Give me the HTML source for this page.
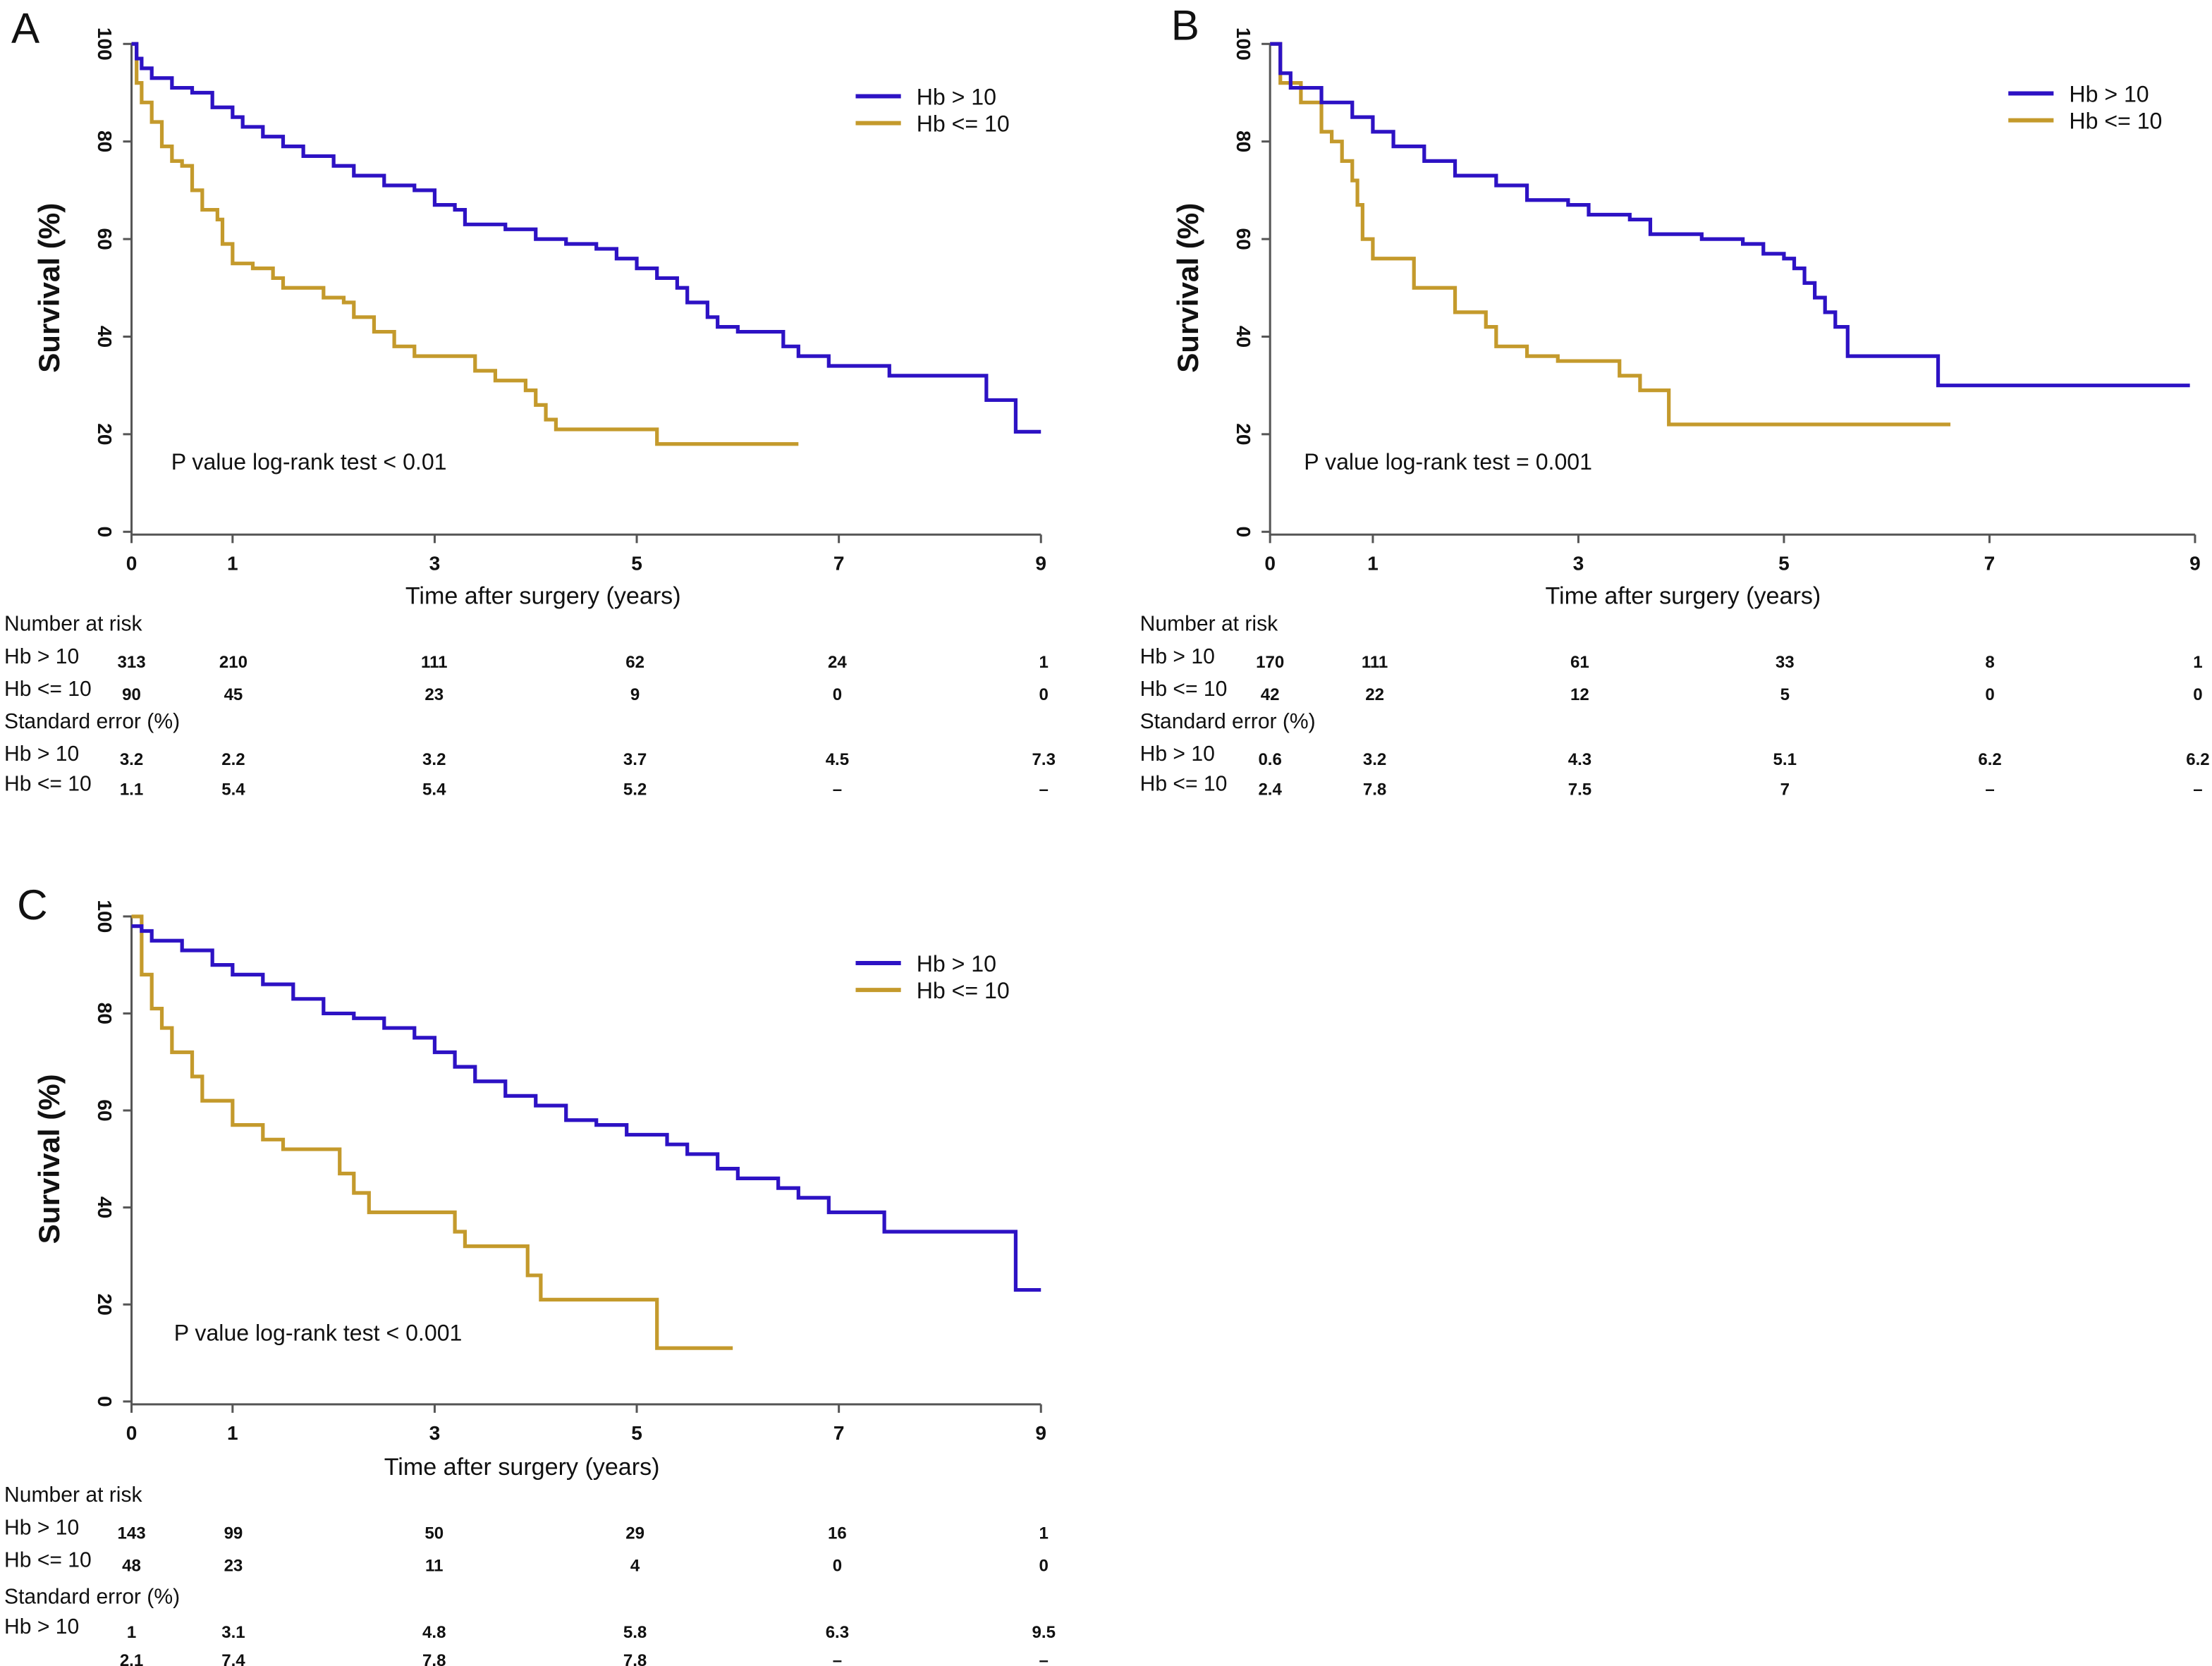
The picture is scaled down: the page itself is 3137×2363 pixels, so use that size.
<!DOCTYPE html>
<html><head><meta charset="utf-8">
<style>
html,body{margin:0;padding:0;background:#fff;}
svg{display:block;}
text{font-family:"Liberation Sans",sans-serif;fill:#111;}
.tk{font-size:14px;font-weight:bold;}
.tv{font-size:12px;font-weight:bold;}
.lb{font-size:15px;}
</style></head>
<body>
<svg id="chart" width="3137" height="2363" viewBox="0 0 1564 1178" xmlns="http://www.w3.org/2000/svg"></svg>
<script>
// ---- data ----
const xTicks = [0,1,3,5,7,9];
const yTicks = [0,20,40,60,80,100];
const seriesNames = ["Hb > 10","Hb <= 10"];
const aBlueT = [0,0.05,0.1,0.2,0.4,0.6,0.8,1,1.1,1.3,1.5,1.7,2,2.2,2.5,2.8,3,3.2,3.3,3.7,4,4.3,4.6,4.8,5,5.2,5.4,5.5,5.7,5.8,6,6.45,6.6,6.9,7.5,8.46,8.75];
const aBlueS = [100,97,95,93,91,90,87,85,83,81,79,77,75,73,71,70,67,66,63,62,60,59,58,56,54,52,50,47,44,42,41,38,36,34,32,27,20.5];
const aBlueEnd = 9;
const aGoldT = [0,0.05,0.1,0.2,0.3,0.4,0.5,0.6,0.7,0.85,0.9,1,1.2,1.4,1.5,1.9,2.1,2.2,2.4,2.6,2.8,3.4,3.6,3.9,4,4.1,4.2,5.2];
const aGoldS = [100,92,88,84,79,76,75,70,66,64,59,55,54,52,50,48,47,44,41,38,36,33,31,29,26,23,21,18];
const aGoldEnd = 6.6;
const bBlueT = [0,0.1,0.2,0.5,0.8,1,1.2,1.5,1.8,2.2,2.5,2.9,3.1,3.5,3.7,4.2,4.6,4.8,5.0,5.1,5.2,5.3,5.4,5.5,5.62,6.5];
const bBlueS = [100,94,91,88,85,82,79,76,73,71,68,67,65,64,61,60,59,57,56,54,51,48,45,42,36,30];
const bBlueEnd = 8.95;
const bGoldT = [0,0.1,0.3,0.5,0.6,0.7,0.8,0.85,0.9,1,1.4,1.8,2.1,2.2,2.5,2.8,3.4,3.6,3.88];
const bGoldS = [100,92,88,82,80,76,72,67,60,56,50,45,42,38,36,35,32,29,22];
const bGoldEnd = 6.62;
const cBlueT = [0,0.1,0.2,0.5,0.8,1,1.3,1.6,1.9,2.2,2.5,2.8,3,3.2,3.4,3.7,4,4.3,4.6,4.9,5.3,5.5,5.8,6,6.4,6.6,6.9,7.45,8.75];
const cBlueS = [98,97,95,93,90,88,86,83,80,79,77,75,72,69,66,63,61,58,57,55,53,51,48,46,44,42,39,35,23];
const cBlueEnd = 9;
const cGoldT = [0,0.1,0.2,0.3,0.4,0.6,0.7,1,1.3,1.5,2.06,2.2,2.35,3.2,3.3,3.92,4.05,5.2];
const cGoldS = [100,88,81,77,72,67,62,57,54,52,47,43,39,35,32,26,21,11];
const cGoldEnd = 5.95;
const aRiskHi = ["313","210","111","62","24","1"];
const aRiskLo = ["90","45","23","9","0","0"];
const aSeHi = ["3.2","2.2","3.2","3.7","4.5","7.3"];
const aSeLo = ["1.1","5.4","5.4","5.2","–","–"];
const bRiskHi = ["170","111","61","33","8","1"];
const bRiskLo = ["42","22","12","5","0","0"];
const bSeHi = ["0.6","3.2","4.3","5.1","6.2","6.2"];
const bSeLo = ["2.4","7.8","7.5","7","–","–"];
const cRiskHi = ["143","99","50","29","16","1"];
const cRiskLo = ["48","23","11","4","0","0"];
const cSeHi = ["1","3.1","4.8","5.8","6.3","9.5"];
const cSeLo = ["2.1","7.4","7.8","7.8","–","–"];

const NS="http://www.w3.org/2000/svg";
const svg=document.getElementById('chart');
function mk(tag,attrs,parent){const e=document.createElementNS(NS,tag);for(const k in attrs)e.setAttribute(k,attrs[k]);(parent||svg).appendChild(e);return e;}
function txt(s,x,y,cls,parent,anchor){const t=mk('text',{x:x,y:y,'class':cls||'lb','text-anchor':anchor||'start'},parent);t.textContent=s;return t;}

const panels=[
 {id:'a',letter:'A',lx:8,ly:30,x0:93,x9:736,y0:376,y100:31,blue:[aBlueT,aBlueS,aBlueEnd],gold:[aGoldT,aGoldS,aGoldEnd],p:'P value log-rank test < 0.01',px:121,py:332,
  legx:605,legy:68,xlabX:384,xlabY:427,tabX:3,rows:[446,469,492,515,538,559],vals:[aRiskHi,aRiskLo,aSeHi,aSeLo],lastLabel:true},
 {id:'b',letter:'B',lx:828,ly:28,x0:898,x9:1552,y0:376,y100:31,blue:[bBlueT,bBlueS,bBlueEnd],gold:[bGoldT,bGoldS,bGoldEnd],p:'P value log-rank test = 0.001',px:922,py:332,
  legx:1420,legy:66,xlabX:1190,xlabY:427,tabX:806,rows:[446,469,492,515,538,559],vals:[bRiskHi,bRiskLo,bSeHi,bSeLo],lastLabel:true},
 {id:'c',letter:'C',lx:12,ly:650,x0:93,x9:736,y0:991,y100:648,blue:[cBlueT,cBlueS,cBlueEnd],gold:[cGoldT,cGoldS,cGoldEnd],p:'P value log-rank test < 0.001',px:123,py:948,
  legx:605,legy:681,xlabX:369,xlabY:1043,tabX:3,rows:[1062,1085,1108,1134,1155,1175],vals:[cRiskHi,cRiskLo,cSeHi,cSeLo],lastLabel:false}
];
const xPos={a:[93,165,307,449,592,736],b:[898,972,1117,1262,1407,1552],c:[93,165,307,449,592,736]};

panels.forEach(P=>{
  const g=mk('g',{});
  
  
  const tp=xPos[P.id];
  const xs=t=>{const k=(tp[5]-tp[0])/9;return tp[0]+t*k;};
  const ys=s=>P.y0-(s/100)*(P.y0-P.y100);
  const L=txt(P.letter,P.lx,P.ly,'lb',g);
  L.setAttribute('style','font-size:30px');
  
  
  const ax=mk('path',{d:`M${xs(0)} ${ys(100)}V${P.y0+2}H${xs(9)}`,stroke:'#555','stroke-width':1.5,fill:'none'},g);
  
  
  yTicks.forEach(v=>{
    mk('line',{x1:xs(0)-6,x2:xs(0),y1:ys(v),y2:ys(v),stroke:'#555','stroke-width':1.5},g);
    const t=txt(String(v),xs(0)-25,ys(v),'tk',g,'middle');
    t.setAttribute('transform',`rotate(90 ${xs(0)-25} ${ys(v)})`);
    t.setAttribute('dy','-0.1em');
    
    
  });
  xTicks.forEach(v=>{
    mk('line',{x1:xs(v),x2:xs(v),y1:P.y0+2,y2:P.y0+8,stroke:'#555','stroke-width':1.5},g);
    const t=txt(String(v),xs(v),P.y0+27,'tk',g,'middle');
    
    
  });
  const yt=txt('Survival (%)',0,0,'lb',g,'middle');
  yt.setAttribute('style','font-size:21px;font-weight:bold');
  yt.setAttribute('transform',`translate(${xs(0)-51},${(P.y0+P.y100)/2}) rotate(-90)`);
  
  
  const xt=txt('Time after surgery (years)',P.xlabX,P.xlabY,'lb',g,'middle');
  xt.setAttribute('style','font-size:17px');
  
  
  const pv=txt(P.p,P.px,P.py,'lb',g);
  pv.setAttribute('style','font-size:16px');
  
  
  [[P.gold,'#c49a2c','gold'],[P.blue,'#2d12c4','blue']].forEach(([s,col,nm])=>{
    const T=s[0],S=s[1],end=s[2];
    let d=`M${xs(T[0])} ${ys(S[0])}`;
    for(let i=1;i<T.length;i++){d+=`H${xs(T[i])}V${ys(S[i])}`;}
    d+=`H${xs(end)}`;
    const p=mk('path',{d:d,stroke:col,'stroke-width':2.6,fill:'none'},g);
    
    
  });
  [['#2d12c4',seriesNames[0]],['#c49a2c',seriesNames[1]]].forEach(([c,n],i)=>{
    const lg=mk('g',{},g);
    
    
    mk('line',{x1:P.legx,x2:P.legx+32,y1:P.legy+i*19,y2:P.legy+i*19,stroke:c,'stroke-width':3},lg);
    const t=txt(n,P.legx+43,P.legy+i*19+6,'lb',lg);
    t.setAttribute('style','font-size:16px');
  });
  const labels=['Number at risk','Hb > 10','Hb <= 10','Standard error (%)','Hb > 10',P.lastLabel?'Hb <= 10':''];
  labels.forEach((l,i)=>{
    if(!l)return;
    const t=txt(l,P.tabX,P.rows[i],'lb',g);
    
    
  });
  const vrows=[1,2,4,5];
  P.vals.forEach((arr,r)=>{
    arr.forEach((v,j)=>{
      const t=txt(v,tp[j]+(j===5?2:0),P.rows[vrows[r]]+3,'tv',g,'middle');
      
      
    });
  });
});
</script>
</body></html>
